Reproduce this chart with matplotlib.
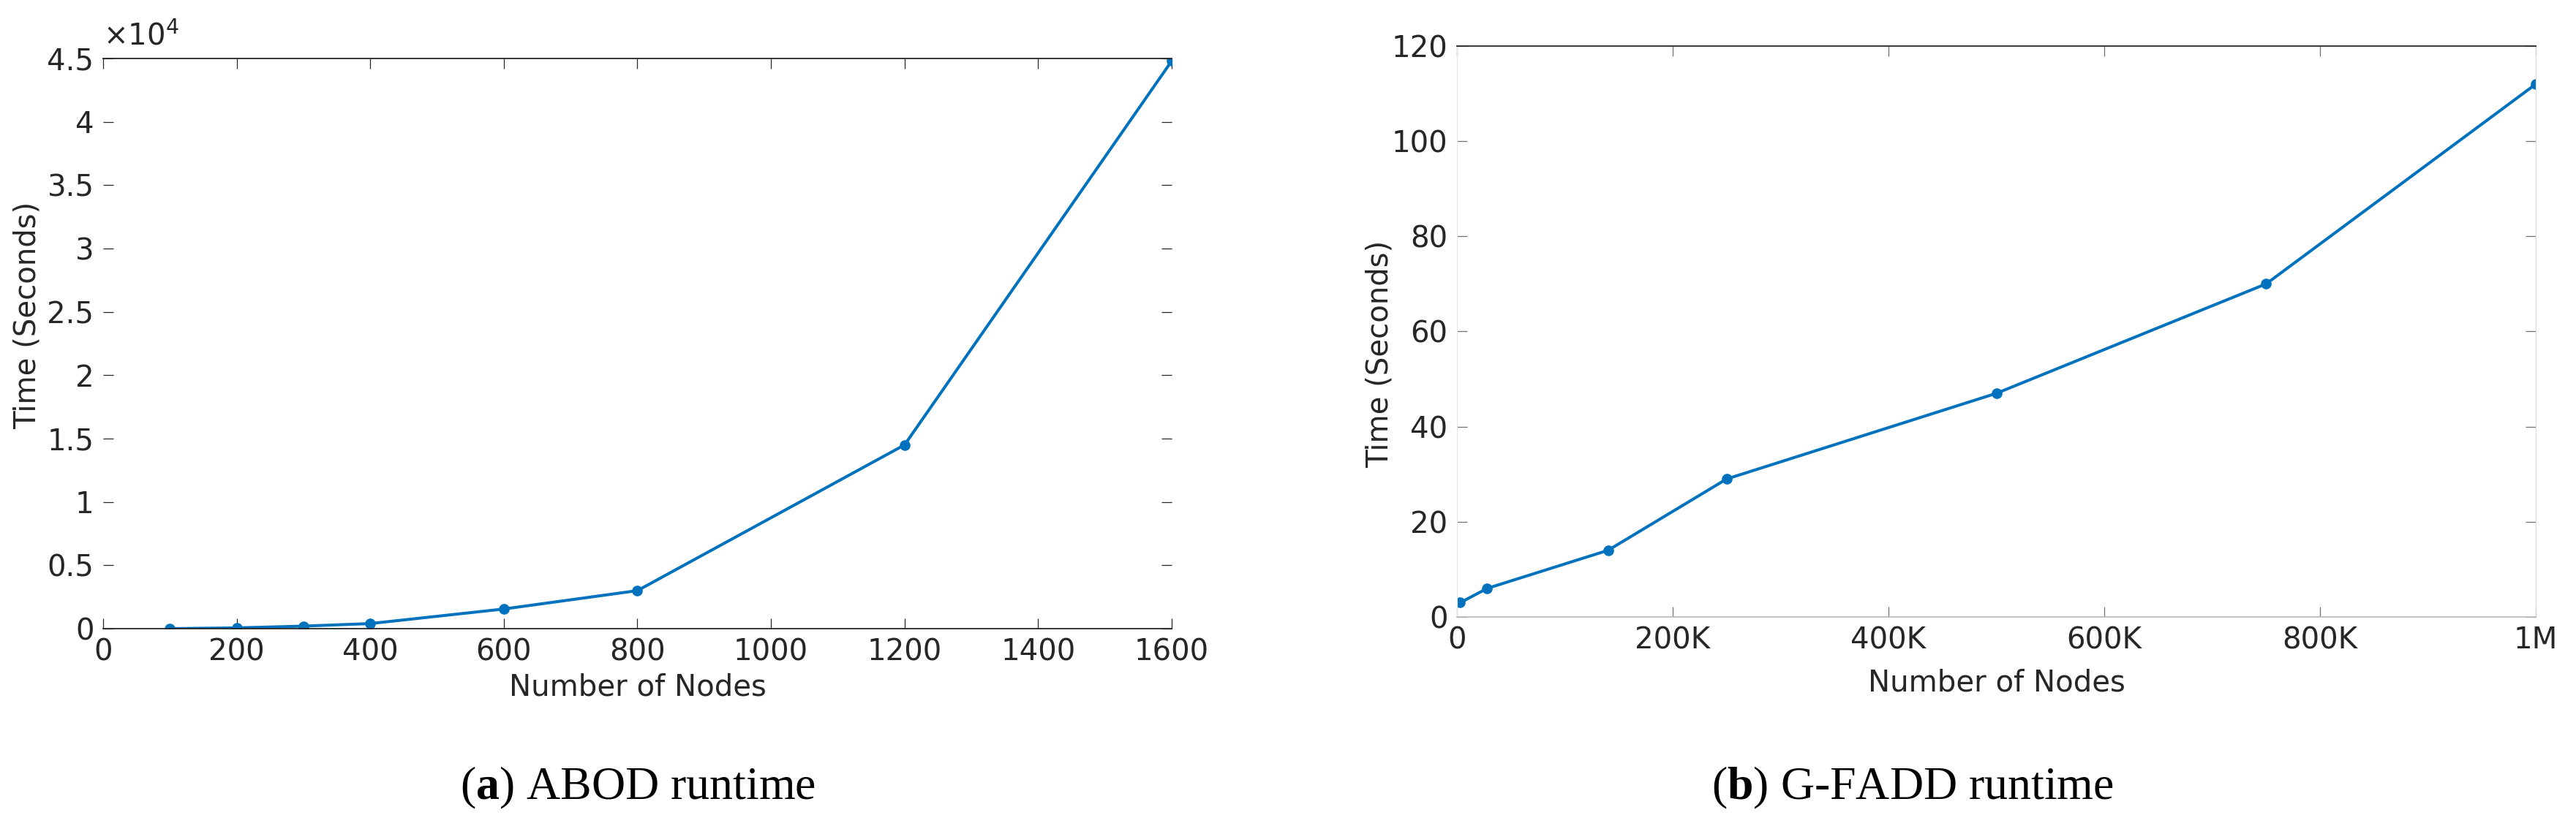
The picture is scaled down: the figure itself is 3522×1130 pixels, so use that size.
import matplotlib
matplotlib.use('Agg')
import matplotlib.pyplot as plt

# ABOD runtime (left panel)
abod_nodes = [100, 200, 300, 400, 600, 800, 1200, 1600]
abod_time = [0, 60, 200, 400, 1550, 3000, 14500, 44800]
abod_xticks = [0, 200, 400, 600, 800, 1000, 1200, 1400, 1600]
abod_yticks = [0, 5000, 10000, 15000, 20000, 25000, 30000, 35000, 40000, 45000]
abod_ylabels = ['0', '0.5', '1', '1.5', '2', '2.5', '3', '3.5', '4', '4.5']

# G-FADD runtime (right panel)
gfadd_nodes = [3000, 28000, 140000, 250000, 500000, 750000, 1000000]
gfadd_time = [3, 6, 14, 29, 47, 70, 112]
gfadd_xticks = [0, 200000, 400000, 600000, 800000, 1000000]
gfadd_xlabels = ['0', '200K', '400K', '600K', '800K', '1M']
gfadd_yticks = [0, 20, 40, 60, 80, 100, 120]

plt.rcParams['font.family'] = 'DejaVu Sans'
plt.rcParams['mathtext.fontset'] = 'custom'
plt.rcParams['mathtext.rm'] = 'Liberation Serif'
plt.rcParams['mathtext.bf'] = 'Liberation Serif:bold'

blue = '#0072BD'
dark = '#262626'
fs = 29

fig = plt.figure(figsize=(35.23, 11.3), dpi=100)

# left
ax1 = fig.add_axes([0.04002, 0.23894, 0.4147, 0.69027])
ax1.plot(abod_nodes, abod_time, '-o', color=blue, lw=2.9, ms=9.5)
ax1.set_xlim(0, 1600)
ax1.set_ylim(0, 45000)
ax1.set_xticks(abod_xticks)
ax1.set_yticks(abod_yticks)
ax1.set_yticklabels(abod_ylabels)
for s in ['left', 'right']:
    ax1.spines[s].set_visible(False)
for s in ['top', 'bottom']:
    ax1.spines[s].set_color(dark)
    ax1.spines[s].set_linewidth(1.3)
ax1.tick_params(direction='in', length=10, width=0.9, color=dark,
                labelsize=fs, labelcolor=dark, pad=9,
                top=True, right=True)
ax1.set_xlabel('Number of Nodes', fontsize=fs, color=dark, labelpad=6)
ax1.set_ylabel('Time (Seconds)', fontsize=fs, color=dark)
ax1.yaxis.set_label_coords(-0.057, 0.55)
ax1.text(0.0, 1.012, r'$\times10^{4}$', transform=ax1.transAxes,
         fontsize=fs, color=dark, ha='left', va='bottom',
         math_fontfamily='dejavusans')

# right
ax2 = fig.add_axes([0.56543, 0.2531, 0.41868, 0.69115])
ax2.plot(gfadd_nodes, gfadd_time, '-o', color=blue, lw=2.9, ms=9.5)
ax2.set_xlim(0, 1000000)
ax2.set_ylim(0, 120)
ax2.set_xticks(gfadd_xticks)
ax2.set_xticklabels(gfadd_xlabels)
ax2.set_yticks(gfadd_yticks)
ax2.spines['top'].set_color(dark)
ax2.spines['top'].set_linewidth(1.3)
ax2.spines['bottom'].set_color('#bdbdbd')
ax2.spines['bottom'].set_linewidth(1.3)
ax2.spines['left'].set_color('#e6e6e6')
ax2.spines['right'].set_color('#dcdcdc')
ax2.tick_params(direction='in', length=10, width=0.9, color='#707070',
                labelsize=fs, labelcolor=dark, pad=9,
                top=True, right=True)
ax2.set_xlabel('Number of Nodes', fontsize=fs, color=dark, labelpad=13)
ax2.set_ylabel('Time (Seconds)', fontsize=fs, color=dark)
ax2.yaxis.set_label_coords(-0.058, 0.46)

# captions
fig.text(0.2475, 0.046, r'($\mathbf{a}$) ABOD runtime', fontsize=46,
         family='Liberation Serif', ha='center', va='center', color='black')
fig.text(0.7423, 0.046, r'($\mathbf{b}$) G-FADD runtime', fontsize=46,
         family='Liberation Serif', ha='center', va='center', color='black')

fig.savefig('out.png', dpi=100)
